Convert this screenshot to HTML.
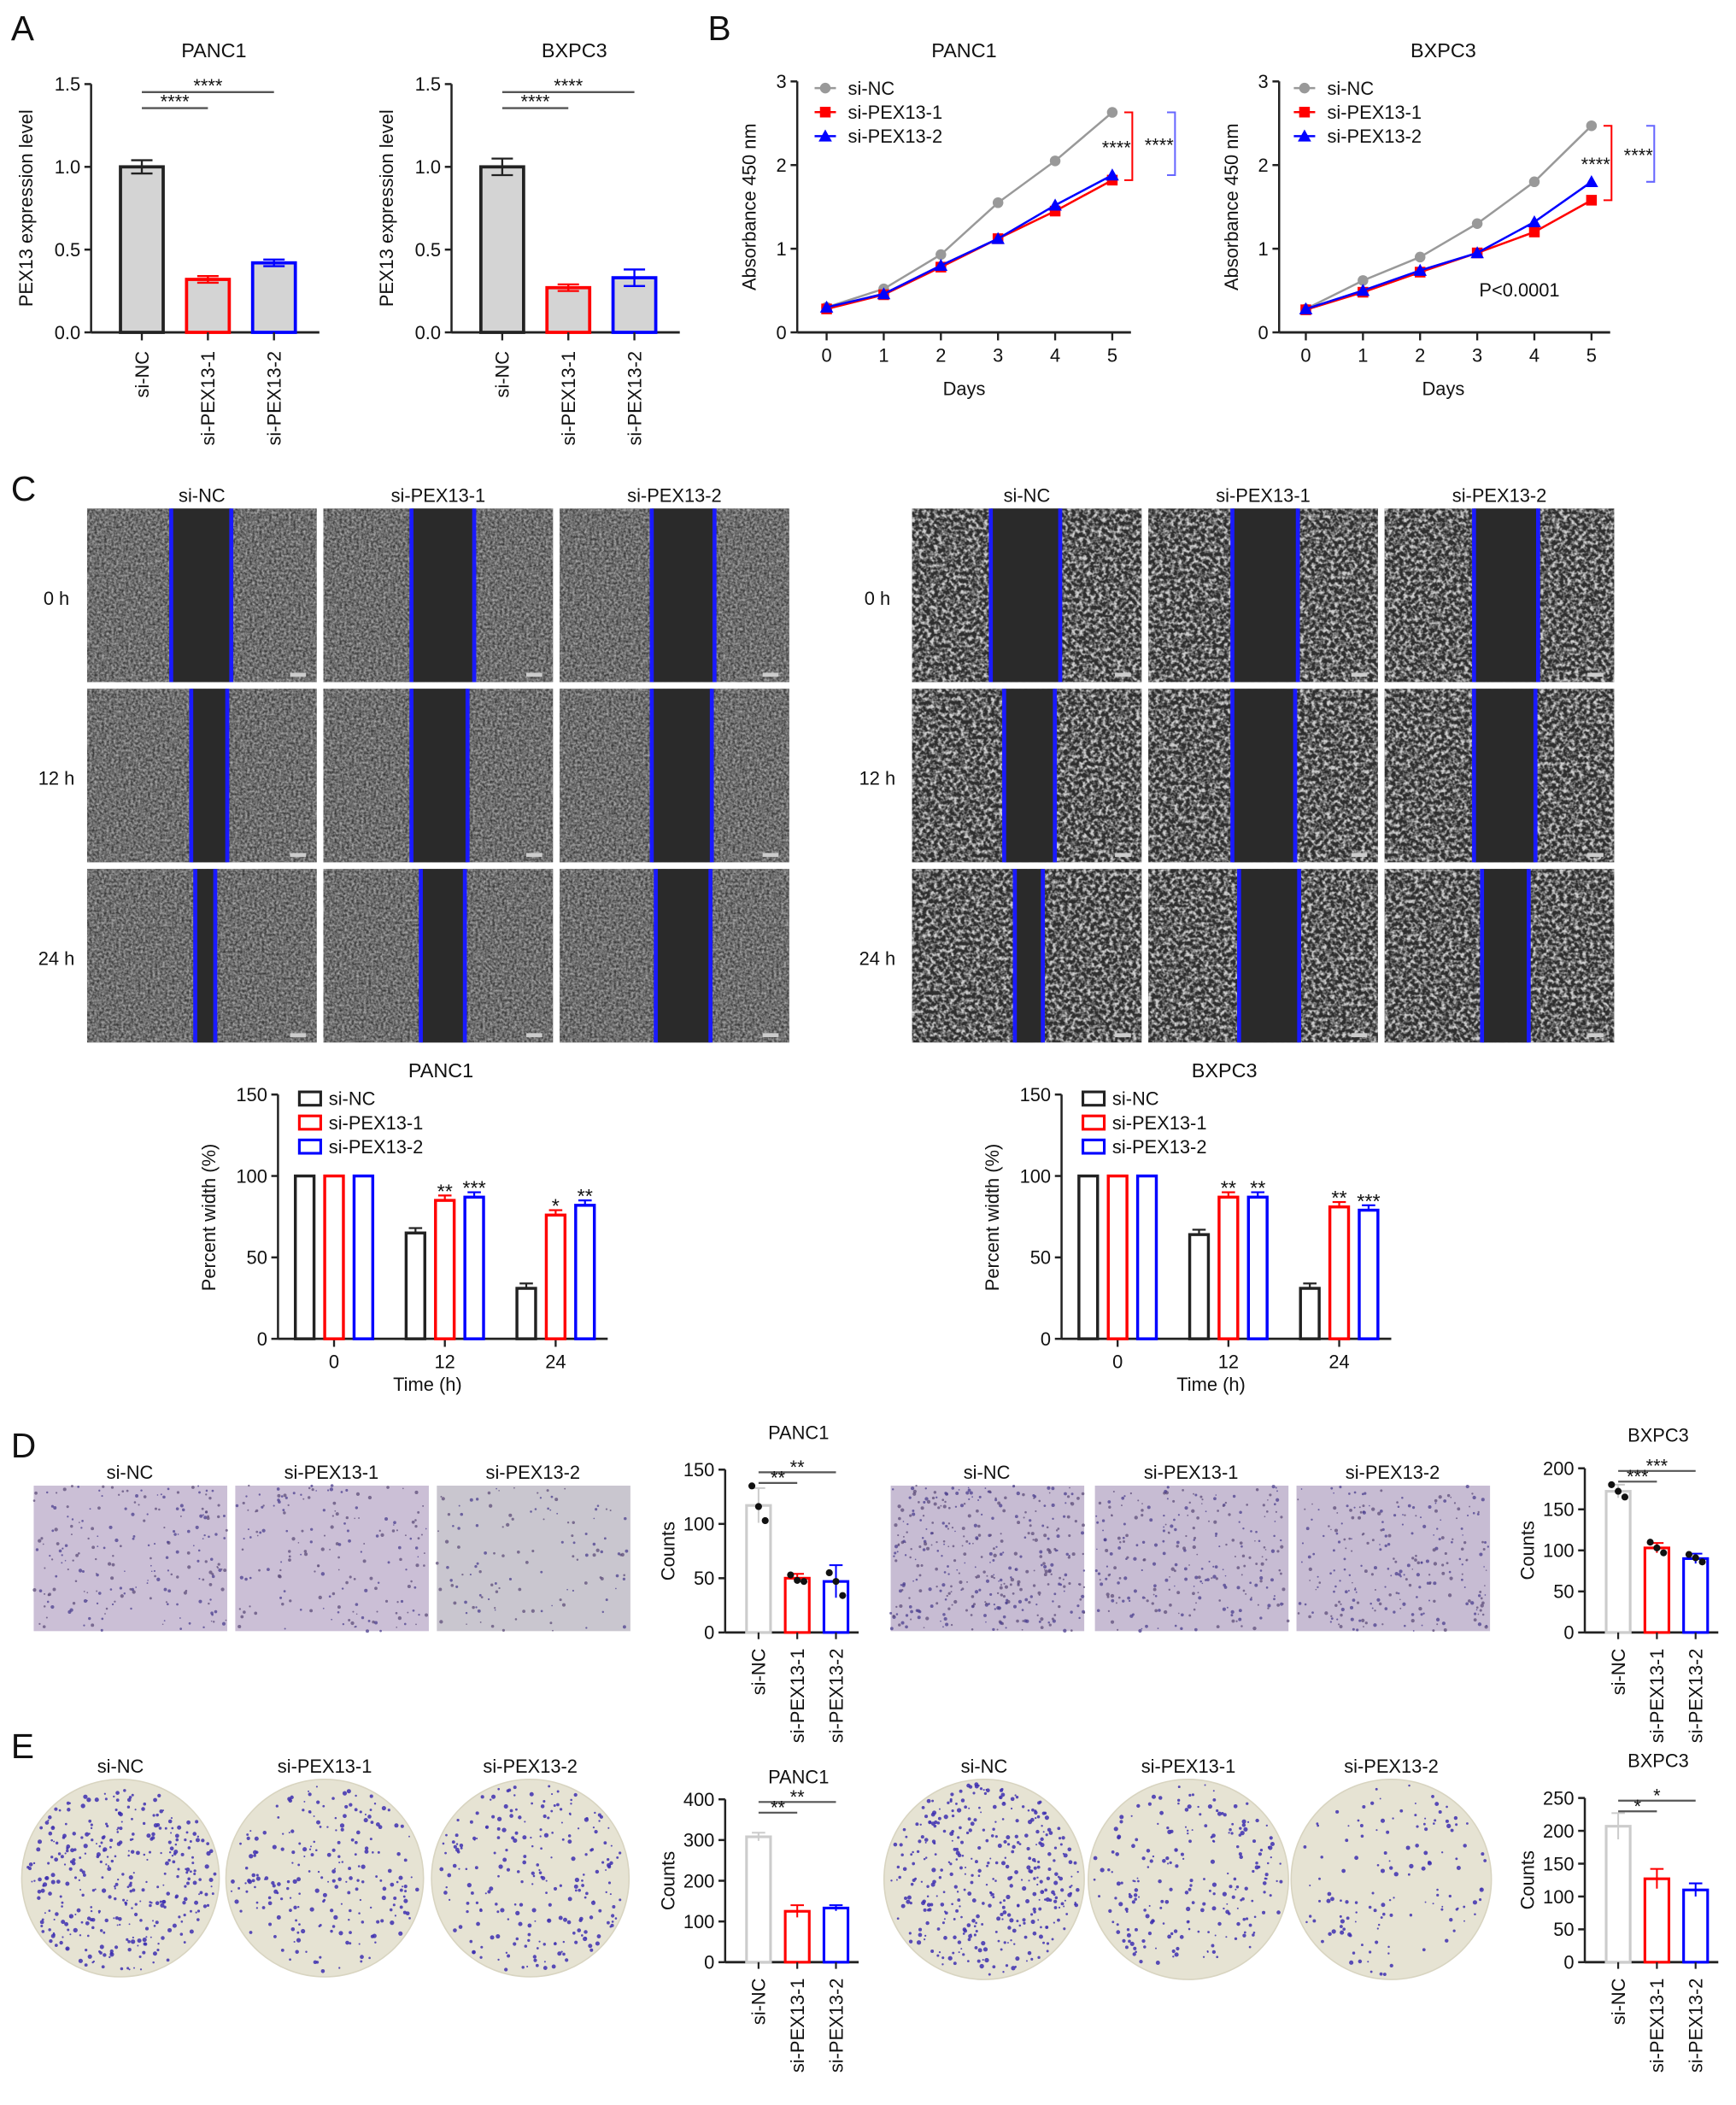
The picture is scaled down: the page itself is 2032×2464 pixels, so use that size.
<!DOCTYPE html>
<html><head><meta charset="utf-8">
<style>
html,body{margin:0;padding:0;background:#fff;}
svg{display:block;font-family:"Liberation Sans",Arial,sans-serif;}
</style></head>
<body>
<svg id="fig" width="2032" height="2464" viewBox="0 0 1300 1577" xmlns="http://www.w3.org/2000/svg">
<defs>
<filter id="cellsL" x="0" y="0" width="1" height="1">
<feTurbulence type="fractalNoise" baseFrequency="0.55" numOctaves="2" seed="3"/>
<feColorMatrix type="matrix" values="0 0 0 0 0.42  0 0 0 0 0.42  0 0 0 0 0.42  1.6 0 0 0 -0.35"/>
<feComposite in2="SourceGraphic" operator="in"/>
</filter>
<filter id="cellsR" x="0" y="0" width="1" height="1">
<feTurbulence type="fractalNoise" baseFrequency="0.35" numOctaves="2" seed="7"/>
<feColorMatrix type="matrix" values="0 0 0 0 0.62  0 0 0 0 0.62  0 0 0 0 0.62  3 0 0 0 -1.2"/>
<feComposite in2="SourceGraphic" operator="in"/>
</filter>
</defs>
<g id="root"></g>
</svg>
<script>
// ===== DATA =====
const groups = ["si-NC","si-PEX13-1","si-PEX13-2"];
const colors = ["#222","#f00","#00f"];
const aPancVals = [1.0,0.32,0.42];
const aPancErr = [0.04,0.02,0.02];
const aBxVals = [1.0,0.27,0.33];
const aBxErr = [0.05,0.02,0.05];
const aTicks = [0,0.5,1.0,1.5];
const aTickLabels = ["0.0","0.5","1.0","1.5"];
const days = [0,1,2,3,4,5];
const bPancNC = [0.30,0.52,0.93,1.55,2.05,2.63];
const bPancP1 = [0.28,0.45,0.78,1.12,1.45,1.82];
const bPancP2 = [0.30,0.46,0.80,1.12,1.52,1.88];
const bBxNC = [0.28,0.62,0.90,1.30,1.80,2.47];
const bBxP1 = [0.27,0.48,0.72,0.95,1.20,1.58];
const bBxP2 = [0.28,0.50,0.74,0.95,1.32,1.80];
const bTicks = [0,1,2,3];
const times = ["0","12","24"];
const cPancNC = [100,65,31];
const cPancP1 = [100,85,76];
const cPancP2 = [100,87,82];
const cBxNC = [100,64,31];
const cBxP1 = [100,87,81];
const cBxP2 = [100,87,79];
const cStarsPanc = [["",""],["**","***"],["*","**"]];
const cStarsBx = [["",""],["**","**"],["**","***"]];
const cTicks = [0,50,100,150];
const dPancVals = [117,50,47];
const dPancErr = [16,4,15];
const dPancPts = [[135,116,103],[53,48,47],[55,47,34]];
const dBxVals = [172,103,90];
const dBxErr = [8,6,6];
const dBxPts = [[180,172,165],[110,103,97],[95,91,86]];
const dPancTicks = [0,50,100,150];
const dBxTicks = [0,50,100,150,200];
const ePancVals = [308,125,133];
const ePancErr = [10,15,7];
const eBxVals = [207,127,110];
const eBxErr = [20,15,10];
const ePancTicks = [0,100,200,300,400];
const eBxTicks = [0,50,100,150,200,250];

// ===== HELPERS =====
const NS="http://www.w3.org/2000/svg";
const root=document.getElementById('root');
function el(tag,attrs,parent,text){
  const e=document.createElementNS(NS,tag);
  for(const k in attrs) e.setAttribute(k,attrs[k]);
  if(text!==undefined) e.textContent=text;
  (parent||root).appendChild(e);
  return e;
}
function txt(x,y,s,size,anchor,parent,name,rot,weight){
  const t=el('text',{x:x,y:y,'font-size':size,'text-anchor':anchor||'middle',fill:'#111'},parent,s);
  if(rot) t.setAttribute('transform','rotate('+rot+' '+x+' '+y+')');
  if(weight) t.setAttribute('font-weight',weight);
  
  
  return t;
}
function line(x1,y1,x2,y2,c,w,parent){
  return el('line',{x1:x1,y1:y1,x2:x2,y2:y2,stroke:c||'#222','stroke-width':w||1.5},parent);
}
function yAxis(g,x,yScale,ticks,labels,fs){
  const a=line(x,yScale(ticks[0]),x,yScale(ticks[ticks.length-1]),'#222',1.6,g);
  
  
  ticks.forEach((t,i)=>{
    line(x-5,yScale(t),x,yScale(t),'#222',1.6,g);
    txt(x-8,yScale(t)+5,labels?labels[i]:String(t),fs||14,'end',g,'y-tick-label');
  });
}

// ===== PANEL LETTERS =====
[["A",8,30],["B",530,30],["C",8,375],["D",8,1092],["E",8,1317]].forEach(p=>{
  txt(p[1],p[2],p[0],26,'start',root,'panel-letter-'+p[0].toLowerCase());
});

// ===== PANEL A =====
function barA(ox,title,vals,errs,sig,name){
  const g=el('g',{},root);
  
  
  const y0=249,y1=63;
  const ys=v=>y0-(v/1.5)*(y0-y1);
  const xs=i=>ox+38+i*49.5;
  txt(ox+92,43,title,15,'middle',g,'chart-title');
  txt(ox-44,156,'PEX13 expression level',14,'middle',g,'y-axis-title',-90);
  yAxis(g,ox,ys,aTicks,aTickLabels,14);
  const xa=line(ox,y0,ox+171,y0,'#222',1.8,g);
  
  
  vals.forEach((v,i)=>{
    const r=el('rect',{x:xs(i)-16,y:ys(v),width:32,height:y0-ys(v),fill:'#d4d4d4',stroke:colors[i],'stroke-width':2.4},g);
    
    
    line(xs(i),ys(v+errs[i]),xs(i),ys(v-errs[i]),colors[i],1.5,g);
    line(xs(i)-8,ys(v+errs[i]),xs(i)+8,ys(v+errs[i]),colors[i],1.5,g);
    line(xs(i)-8,ys(v-errs[i]),xs(i)+8,ys(v-errs[i]),colors[i],1.5,g);
    line(xs(i),y0,xs(i),y0+6,'#222',1.5,g);
    txt(xs(i)+5,y0+14,groups[i],14,'end',g,'x-tick-label',-90);
  });
  line(xs(0),69,xs(2),69,'#555',1.5,g);
  txt((xs(0)+xs(2))/2,69,'****',14,'middle',g,'significance');
  line(xs(0),81,xs(1),81,'#555',1.5,g);
  txt((xs(0)+xs(1))/2,81,'****',14,'middle',g,'significance');
}
barA(68,'PANC1',aPancVals,aPancErr,null,'chart-a-panc1');
barA(338,'BXPC3',aBxVals,aBxErr,null,'chart-a-bxpc3');

// ===== PANEL B =====
function lineB(ox,x0,title,series,br,name){
  const g=el('g',{},root);
  
  
  const y0=249,y1=61;
  const ys=v=>y0-(v/3)*(y0-y1);
  const xs=d=>x0+d*42.8;
  txt(x0+103,43,title,15,'middle',g,'chart-title');
  txt(ox-31,155,'Absorbance 450 nm',14,'middle',g,'y-axis-title',-90);
  yAxis(g,ox,ys,bTicks,null,14);
  line(ox,y0,xs(5)+14,y0,'#222',1.8,g);
  days.forEach(d=>{
    line(xs(d),y0,xs(d),y0+6,'#222',1.5,g);
    txt(xs(d),y0+22,String(d),14,'middle',g,'x-tick-label');
  });
  txt(x0+103,296,'Days',14,'middle',g,'x-axis-title');
  const cols=['#999','#f00','#00f'];
  const shapes=['circle','square','tri'];
  function mark(x,y,s,c,parent){
    let m;
    if(s==='circle') m=el('circle',{cx:x,cy:y,r:4,fill:c},parent);
    else if(s==='square') m=el('rect',{x:x-4,y:y-4,width:8,height:8,fill:c},parent);
    else m=el('polygon',{points:(x)+','+(y-5)+' '+(x-5)+','+(y+4)+' '+(x+5)+','+(y+4),fill:c},parent);
    
    
  }
  series.forEach((s,k)=>{
    const pl=el('polyline',{points:s.map((v,i)=>xs(days[i])+','+ys(v)).join(' '),fill:'none',stroke:cols[k],'stroke-width':1.6},g);
    
    
    s.forEach((v,i)=>mark(xs(days[i]),ys(v),shapes[k],cols[k],g));
    const ly=66+k*18;
    line(x0-9,ly,x0+7,ly,cols[k],1.6,g);
    mark(x0-1,ly,shapes[k],cols[k],g);
    txt(x0+16,ly+5,groups[k],14,'start',g,'legend-entry');
  });
  const last=series.map(s=>s[5]);
  const bx1=xs(5)+15, bx2=xs(5)+47;
  el('polyline',{points:(bx1-6)+','+ys(last[0])+' '+bx1+','+ys(last[0])+' '+bx1+','+ys(last[1])+' '+(bx1-6)+','+ys(last[1]),fill:'none',stroke:'#f00','stroke-width':1.3},g);
  el('polyline',{points:(bx2-6)+','+ys(last[0])+' '+bx2+','+ys(last[0])+' '+bx2+','+ys(last[2])+' '+(bx2-6)+','+ys(last[2]),fill:'none',stroke:'#66f','stroke-width':1.3},g);
  txt(bx1-1,ys((last[0]+last[1])/2)+6,'****',14,'end',g,'significance');
  txt(bx2-1,ys((last[0]+last[2])/2)+6,'****',14,'end',g,'significance');
}
lineB(597,619,'PANC1',[bPancNC,bPancP1,bPancP2],null,'chart-b-panc1');
lineB(958,978,'BXPC3',[bBxNC,bBxP1,bBxP2],null,'chart-b-bxpc3');
txt(1138,222,'P<0.0001',14,'middle',root,'p-value');

// ===== PANEL C IMAGES =====
const cColsL=[65,242,419], cColsR=[683,860,1037], cRows=[381,516,651];
const cLinesL=[[[128,173],[308,355],[488,535]],[[143,170],[308,350],[488,533]],[[146,161],[315,348],[491,532]]];
const cLinesR=[[[742,794],[923,972],[1104,1152]],[[752,790],[923,970],[1104,1150]],[[760,781],[928,973],[1110,1145]]];
function woundGrid(cols,lines,filt,base,labelX,name){
  const g=el('g',{},root);
  
  
  cols.forEach((cx,j)=>txt(cx+86,376,groups[j],14,'middle',g,'column-header'));
  ['0 h','12 h','24 h'].forEach((s,i)=>txt(labelX,cRows[i]+72,s,14,'middle',g,'row-label'));
  cRows.forEach((ry,i)=>cols.forEach((cx,j)=>{
    const im=el('g',{},g);
    
    
    el('rect',{x:cx,y:ry,width:172,height:130,fill:base},im);
    el('rect',{x:cx,y:ry,width:172,height:130,fill:'#fff',filter:'url(#'+filt+')'},im);
    const L=lines[i][j];
    el('rect',{x:L[0],y:ry,width:L[1]-L[0],height:130,fill:'#2a2a2a'},im);
    el('rect',{x:L[0]-1.5,y:ry,width:3,height:130,fill:'#1a1aff'},im);
    el('rect',{x:L[1]-1.5,y:ry,width:3,height:130,fill:'#1a1aff'},im);
    el('rect',{x:cx+152,y:ry+123,width:12,height:3,fill:'#ccc'},im);
  }));
}
woundGrid(cColsL,cLinesL,'cellsL','#3a3a3a',42,'wound-images-panc1');
woundGrid(cColsR,cLinesR,'cellsR','#2e2e2e',657,'wound-images-bxpc3');

// ===== PANEL C CHARTS =====
function barC(ox,title,series,stars,name){
  const g=el('g',{},root);
  
  
  const y0=1003,y1=820;
  const ys=v=>y0-(v/150)*(y0-y1);
  const gx=i=>ox+42+i*83;
  txt(ox+122,807,title,15,'middle',g,'chart-title');
  txt(ox-47,912,'Percent width (%)',14,'middle',g,'y-axis-title',-90);
  yAxis(g,ox,ys,cTicks,null,14);
  line(ox,y0,ox+247,y0,'#222',1.8,g);
  times.forEach((t,i)=>{
    line(gx(i),y0,gx(i),y0+6,'#222',1.5,g);
    txt(gx(i),y0+22,t,14,'middle',g,'x-tick-label');
    series.forEach((s,k)=>{
      const x=gx(i)+(k-1)*22;
      const r=el('rect',{x:x-7,y:ys(s[i]),width:14,height:y0-ys(s[i]),fill:'#fff',stroke:colors[k],'stroke-width':2.2},g);
      
      
      if(s[i]<100){line(x,ys(s[i]+3),x,ys(s[i]),colors[k],1.4,g);line(x-5,ys(s[i]+3),x+5,ys(s[i]+3),colors[k],1.4,g);}
      if(k>0&&stars[i][k-1]) txt(x,ys(s[i]+3)+2,stars[i][k-1],15,'middle',g,'significance');
    });
  });
  txt(ox+112,1042,'Time (h)',14,'middle',g,'x-axis-title');
  groups.forEach((n,k)=>{
    const ly=823+k*18;
    el('rect',{x:ox+16,y:ly-5,width:16,height:10,fill:'#fff',stroke:colors[k],'stroke-width':2},g);
    txt(ox+38,ly+5,n,14,'start',g,'legend-entry');
  });
}
barC(208,'PANC1',[cPancNC,cPancP1,cPancP2],cStarsPanc,'chart-c-panc1');
barC(795,'BXPC3',[cBxNC,cBxP1,cBxP2],cStarsBx,'chart-c-bxpc3');

// ===== PANEL D IMAGES (decorative) =====
let seed=12345;function rnd(){seed=(seed*16807)%2147483647;return seed/2147483647;}
function stainBox(x,y,w,h,bg,n,name){
  const g=el('g',{},root);
  
  
  el('rect',{x:x,y:y,width:w,height:h,fill:bg},g);
  for(let i=0;i<n;i++){
    el('circle',{cx:x+rnd()*w,cy:y+rnd()*h,r:0.5+rnd()*0.9,fill:rnd()<0.5?'#4b3f8f':'#5d4e7a','fill-opacity':0.75},g);
  }
}
const dL=[25,176,327], dR=[667,820,971];
dL.forEach((x,j)=>{txt(x+72,1108,groups[j],14,'middle',root,'column-header');stainBox(x,1113,145,109,j==2?'#c9c6cf':'#cbbfd6',[220,180,120][j],'transwell-panc1-'+j);});
dR.forEach((x,j)=>{txt(x+72,1108,groups[j],14,'middle',root,'column-header');stainBox(x,1113,145,109,'#c7bcd3',[380,260,260][j],'transwell-bxpc3-'+j);});

// ===== PANEL E PLATES =====
function plate(cx,cy,r,n,name){
  const g=el('g',{},root);
  
  
  el('ellipse',{cx:cx,cy:cy,rx:r,ry:r*1.0,fill:'#e6e3d3',stroke:'#d8d4c0','stroke-width':1},g);
  for(let i=0;i<n;i++){
    const a=rnd()*Math.PI*2, d=Math.sqrt(rnd())*(r-3);
    el('circle',{cx:cx+Math.cos(a)*d,cy:cy+Math.sin(a)*d,r:0.6+rnd()*1.1,fill:'#3d2fb0','fill-opacity':0.85},g);
  }
}
[[90,'si-NC',360],[243,'si-PEX13-1',220],[397,'si-PEX13-2',230]].forEach((p,j)=>{txt(p[0],1328,p[1],14,'middle',root,'column-header');plate(p[0],1407,74,p[2],'colony-plate-panc1-'+j);});
[[737,'si-NC',380],[890,'si-PEX13-1',220],[1042,'si-PEX13-2',130]].forEach((p,j)=>{txt(p[0],1328,p[1],14,'middle',root,'column-header');plate(p[0],1408,75,p[2],'colony-plate-bxpc3-'+j);});

// ===== SMALL BAR CHARTS (D/E) =====
function barSmall(ox,y0,y1,max,ticks,title,titleY,vals,errs,pts,sig,name){
  const g=el('g',{},root);
  
  
  const ys=v=>y0-(v/max)*(y0-y1);
  const xs=i=>ox+25+i*29;
  txt(ox+55,titleY,title,14,'middle',g,'chart-title');
  txt(ox-38,(y0+y1)/2,'Counts',14,'middle',g,'y-axis-title',-90);
  yAxis(g,ox,ys,ticks,null,14);
  line(ox,y0,ox+100,y0,'#222',1.8,g);
  const bc=['#ccc','#f00','#00f'];
  vals.forEach((v,i)=>{
    const r=el('rect',{x:xs(i)-9,y:ys(v),width:18,height:y0-ys(v),fill:'#fff',stroke:bc[i],'stroke-width':2},g);
    
    
    line(xs(i),ys(v+errs[i]),xs(i),ys(Math.max(0,v-errs[i])),bc[i],1.3,g);
    line(xs(i)-5,ys(v+errs[i]),xs(i)+5,ys(v+errs[i]),bc[i],1.3,g);
    if(pts) pts[i].forEach((p,q)=>{const c=el('circle',{cx:xs(i)+(q-1)*5,cy:ys(p),r:2.6,fill:'#111'},g);});
    line(xs(i),y0,xs(i),y0+5,'#222',1.4,g);
    txt(xs(i)+5,y0+12,groups[i],14,'end',g,'x-tick-label',-90);
  });
  line(xs(0),y1+2,xs(2),y1+2,'#555',1.4,g);
  txt((xs(0)+xs(2))/2,y1+3,sig[1],14,'middle',g,'significance');
  line(xs(0),y1+10,xs(1),y1+10,'#555',1.4,g);
  txt((xs(0)+xs(1))/2,y1+11,sig[0],14,'middle',g,'significance');
}
barSmall(543,1223,1101,150,dPancTicks,'PANC1',1078,dPancVals,dPancErr,dPancPts,['**','**'],'chart-d-panc1');
barSmall(1187,1223,1100,200,dBxTicks,'BXPC3',1080,dBxVals,dBxErr,dBxPts,['***','***'],'chart-d-bxpc3');
barSmall(543,1470,1348,400,ePancTicks,'PANC1',1336,ePancVals,ePancErr,null,['**','**'],'chart-e-panc1');
barSmall(1187,1470,1347,250,eBxTicks,'BXPC3',1324,eBxVals,eBxErr,null,['*','*'],'chart-e-bxpc3');
</script>
</body></html>
